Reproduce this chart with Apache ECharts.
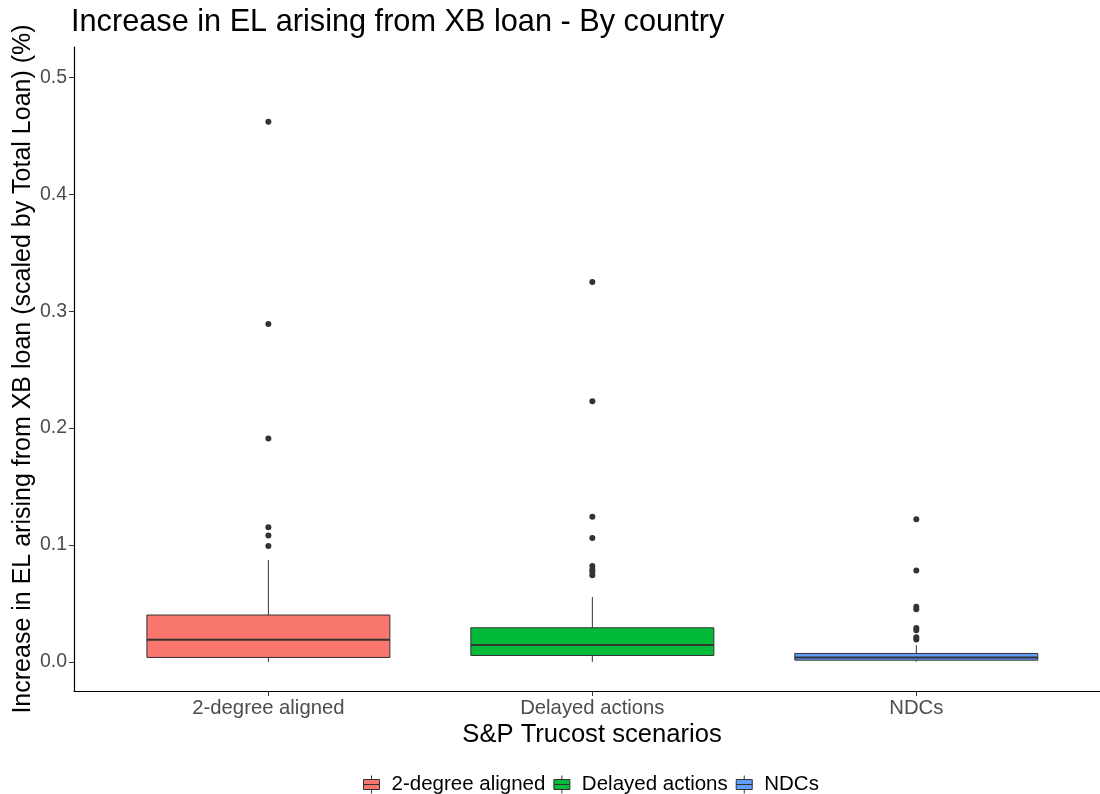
<!DOCTYPE html>
<html>
<head>
<meta charset="utf-8">
<script src="https://cdn.jsdelivr.net/npm/echarts@6/dist/echarts.min.js"></script>
<style>
html,body{margin:0;padding:0;background:#fff;}
#chart{width:1100px;height:794px;}
</style>
</head>
<body>
<div id="chart"></div>
<script>
// ---- data ----
const categories = ['2-degree aligned', 'Delayed actions', 'NDCs'];
const colors = ['#F8766D', '#00BA38', '#619CFF'];
// [min whisker, Q1, median, Q3, max whisker]
const box2degree = [0.0000, 0.0037, 0.0188, 0.0400, 0.0870];
const boxDelayed = [0.0000, 0.0054, 0.0143, 0.0291, 0.0554];
const boxNDCs    = [0.0000, 0.0014, 0.0037, 0.0071, 0.0143];
const out2degree = [0.462, 0.289, 0.191, 0.115, 0.108, 0.099];
const outDelayed = [0.325, 0.223, 0.124, 0.106, 0.082, 0.079, 0.077, 0.074];
const outNDCs    = [0.122, 0.078, 0.047, 0.045, 0.029, 0.027, 0.021, 0.019];
const yTicks = [0.0, 0.1, 0.2, 0.3, 0.4, 0.5];
const xTicks = [0, 1, 2];

const boxes = [box2degree, boxDelayed, boxNDCs];
const outliers = [out2degree, outDelayed, outNDCs];

const FONT = "'Liberation Sans', Arial, Helvetica, sans-serif";

function renderBox(params, api) {
  const x = api.value(0);
  const w = api.size([0.75, 0])[0];
  const pMin = api.coord([x, api.value(1)]);
  const pQ1 = api.coord([x, api.value(2)]);
  const pMed = api.coord([x, api.value(3)]);
  const pQ3 = api.coord([x, api.value(4)]);
  const pMax = api.coord([x, api.value(5)]);
  const color = api.visual('color');
  const edge = '#333333';
  return {
    type: 'group',
    children: [
      { type: 'line', shape: { x1: pQ3[0], y1: pQ3[1], x2: pMax[0], y2: pMax[1] }, style: { stroke: edge, lineWidth: 1 } },
      { type: 'line', shape: { x1: pQ1[0], y1: pQ1[1], x2: pMin[0], y2: pMin[1] }, style: { stroke: edge, lineWidth: 1 } },
      { type: 'rect', shape: { x: pQ3[0] - w / 2, y: pQ3[1], width: w, height: pQ1[1] - pQ3[1] }, style: { fill: color, stroke: edge, lineWidth: 1 } },
      { type: 'line', shape: { x1: pMed[0] - w / 2, y1: pMed[1], x2: pMed[0] + w / 2, y2: pMed[1] }, style: { stroke: edge, lineWidth: 2 } }
    ]
  };
}

const series = [];
categories.forEach(function (name, i) {
  series.push({
    name: name,
    type: 'custom',
    renderItem: renderBox,
    itemStyle: { color: colors[i] },
    encode: { x: 0, y: [1, 2, 3, 4, 5] },
    data: [[xTicks[i]].concat(boxes[i])],
    z: 2
  });
});
const outlierData = [];
outliers.forEach(function (arr, i) {
  arr.forEach(function (v) { outlierData.push([xTicks[i], v]); });
});
series.push({
  name: 'outliers',
  type: 'scatter',
  symbol: 'circle',
  symbolSize: 6,
  itemStyle: { color: '#333333', opacity: 1 },
  data: outlierData,
  z: 3
});

const legendIcon = 'path://M0,4 L16,4 L16,14 L0,14 Z M8,0 L8,4 M8,14 L8,18 M0,9 L16,9';

const chart = echarts.init(document.getElementById('chart'), null, { renderer: 'canvas' });
chart.setOption({
  animation: false,
  backgroundColor: '#ffffff',
  textStyle: { fontFamily: FONT },
  title: {
    text: 'Increase in EL arising from XB loan - By country',
    left: 71,
    top: 7,
    padding: 0,
    textStyle: { fontFamily: FONT, fontSize: 30.7, fontWeight: 'normal', color: '#000000' }
  },
  legend: {
    data: categories.map(function (c) { return { name: c, icon: legendIcon }; }),
    left: 363,
    top: 774,
    padding: 0,
    itemWidth: 16,
    itemHeight: 18,
    itemGap: 8,
    itemStyle: { borderColor: '#333333', borderWidth: 1 },
    textStyle: { fontFamily: FONT, fontSize: 20.5, color: '#000000', padding: [0, 0, 0, 7] }
  },
  grid: { left: 74, right: 0, top: 47, bottom: 103, containLabel: false, outerBoundsMode: 'none' },
  xAxis: {
    type: 'value',
    min: -0.6,
    max: 2.567,
    name: 'S&P Trucost scenarios',
    nameLocation: 'middle',
    nameGap: 31,
    nameMoveOverlap: false,
    nameTextStyle: { fontFamily: FONT, fontSize: 25.6, color: '#000000', verticalAlign: 'top', padding: [0, 0, 0, 10] },
    axisLine: { show: true, onZero: false, lineStyle: { color: '#000000', width: 1.2 } },
    axisTick: { show: true, customValues: xTicks, length: 5, lineStyle: { color: '#333333' } },
    axisLabel: {
      show: true,
      customValues: xTicks,
      margin: 7,
      fontFamily: FONT,
      fontSize: 20.3,
      color: '#4D4D4D',
      formatter: function (v) { return categories[Math.round(v)] || ''; }
    },
    splitLine: { show: false }
  },
  yAxis: {
    type: 'value',
    min: -0.025,
    max: 0.526,
    name: 'Increase in EL arising from XB loan (scaled by Total Loan) (%)',
    nameLocation: 'middle',
    nameGap: 38,
    nameMoveOverlap: false,
    nameTextStyle: { fontFamily: FONT, fontSize: 25, color: '#000000' },
    axisLine: { show: true, onZero: false, lineStyle: { color: '#000000', width: 1.2 } },
    axisTick: { show: true, customValues: yTicks, length: 5, lineStyle: { color: '#333333' } },
    axisLabel: {
      show: true,
      customValues: yTicks,
      margin: 7,
      fontFamily: FONT,
      fontSize: 19.5,
      color: '#4D4D4D',
      formatter: function (v) { return v.toFixed(1); }
    },
    splitLine: { show: false }
  },
  series: series
});
</script>
</body>
</html>
